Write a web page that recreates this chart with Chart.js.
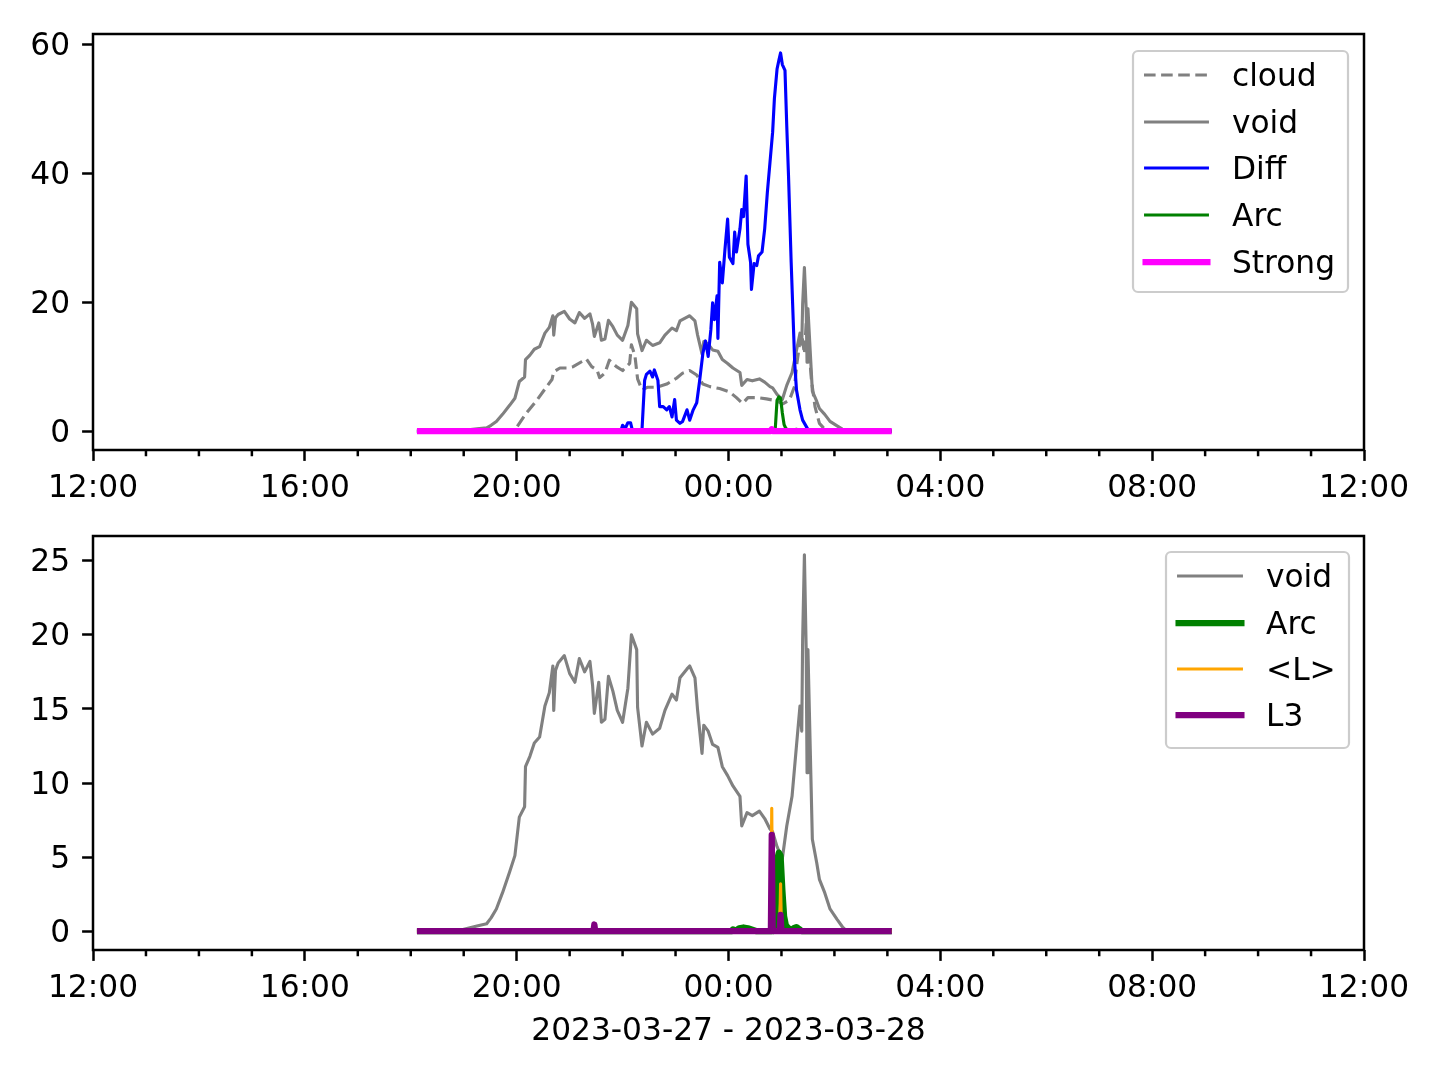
<!DOCTYPE html>
<html>
<head>
<meta charset="utf-8">
<script src="https://cdn.jsdelivr.net/npm/chart.js@4.4.0/dist/chart.umd.min.js"></script>
<style>
  html, body { margin: 0; padding: 0; background: #ffffff; width: 1440px; height: 1080px; overflow: hidden; }
  canvas { position: absolute; left: 0; }
  #top { top: 0; }
  #bottom { top: 490px; }
</style>
</head>
<body>
<canvas id="top" width="1440" height="510"></canvas>
<canvas id="bottom" width="1440" height="590"></canvas>
<script>
// ---------------- data (clock time, value) ----------------
const xTickHours = [0, 4, 8, 12, 16, 20, 24];           // hours after 12:00 that carry labels
const xAxisTitle = '2023-03-27 - 2023-03-28';

const cloud = [
  ['18:07',0],['19:56',0],['20:00',0.6],['20:11',2.8],['20:23',4.8],['20:34',6.9],['20:40',8.0],['20:42',9.2],
  ['20:49',9.8],['20:57',9.8],['21:04',10.0],['21:14',10.8],['21:19',11.2],['21:25',10.0],['21:31',9.5],['21:34',8.3],
  ['21:40',9.0],['21:45',11.0],['21:53',10.0],['22:00',9.4],['22:08',10.5],['22:10',13.4],['22:14',11.7],['22:17',8.1],
  ['22:22',6.4],['22:28',6.8],['22:39',6.8],['22:50',7.3],['23:01',8.2],['23:08',9.0],['23:16',9.4],['23:24',8.7],
  ['23:31',7.3],['23:39',6.9],['23:50',6.6],['00:01',6.1],['00:09',5.2],['00:16',4.3],['00:22',5.2],['00:32',5.2],
  ['00:43',5.0],['00:55',4.7],['01:01',4.2],['01:09',4.8],['01:15',7.0],['01:17',10.0],['01:21',14.0],['01:23',15.0],
  ['01:26',12.0],['01:29',19.0],['01:31',13.0],['01:34',7.9],['01:38',3.8],['01:43',1.2],['01:49',0.3],['01:55',0],['03:05',0]
];

const voidSeries = [
  ['18:07',0],['18:58',0.1],['19:15',0.35],['19:26',0.5],['19:31',0.9],['19:37',1.5],['19:44',2.6],['19:52',4.0],
  ['19:58',5.1],['20:03',7.7],['20:09',8.4],['20:10',11.1],['20:15',11.8],['20:20',12.7],['20:26',13.1],['20:32',15.2],
  ['20:37',16.1],['20:41',17.9],['20:42',14.9],['20:44',17.6],['20:47',18.1],['20:54',18.6],['21:00',17.4],['21:06',16.8],
  ['21:11',18.4],['21:17',17.5],['21:23',18.2],['21:26',16.6],['21:28',14.7],['21:33',16.8],['21:36',14.1],['21:40',14.3],
  ['21:44',17.2],['21:49',16.2],['21:54',14.9],['22:00',14.1],['22:06',16.4],['22:10',20.0],['22:16',19.0],['22:17',15.1],
  ['22:22',12.5],['22:27',14.1],['22:34',13.3],['22:42',13.7],['22:48',14.9],['22:56',16.0],['23:01',15.6],['23:05',17.1],
  ['23:13',17.7],['23:16',17.9],['23:22',17.1],['23:25',14.9],['23:30',12.0],['23:32',13.9],['23:37',13.5],['23:42',12.6],
  ['23:48',12.4],['23:53',11.1],['23:59',10.5],['00:05',9.8],['00:13',9.1],['00:15',7.1],['00:21',8.0],['00:27',7.8],
  ['00:35',8.1],['00:41',7.6],['00:47',6.9],['00:50',6.7],['00:55',5.7],['01:01',4.9],['01:06',7.1],['01:12',9.1],
  ['01:17',12.5],['01:21',15.2],['01:23',13.5],['01:24',19.7],['01:26',25.4],['01:28',19.0],['01:29',10.7],['01:30',19.0],
  ['01:35',6.2],['01:40',4.6],['01:43',3.5],['01:49',2.6],['01:55',1.5],['02:03',0.8],['02:09',0.3],['02:14',0],['03:05',0]
];

const diff = [
  ['18:07',0],['21:58',0],['22:00',0.9],['22:03',0.4],['22:06',1.3],['22:09',1.3],['22:11',0.2],['22:20',0],
  ['22:22',0.2],['22:25',7.9],['22:27',8.8],['22:31',9.3],['22:34',8.4],['22:36',9.5],['22:40',7.9],['22:42',3.8],
  ['22:46',3.8],['22:50',3.3],['22:53',3.8],['22:56',2.2],['22:59',4.9],['23:01',1.7],['23:05',1.2],['23:08',1.5],
  ['23:13',3.3],['23:16',1.7],['23:20',3.3],['23:24',4.4],['23:27',7.5],['23:31',12.1],['23:34',14.0],['23:37',11.6],
  ['23:40',15.7],['23:42',19.9],['23:44',17.3],['23:47',21.0],['23:48',14.4],['23:50',26.2],['23:53',23.0],['23:56',28.2],
  ['23:59',32.9],['00:01',27.0],['00:05',26.0],['00:07',30.9],['00:09',27.8],['00:13',31.4],['00:15',34.4],['00:17',33.3],
  ['00:20',39.6],['00:22',29.0],['00:25',26.2],['00:26',22.0],['00:29',26.0],['00:32',25.7],['00:34',27.2],['00:38',27.8],
  ['00:41',31.4],['00:44',37.0],['00:47',41.7],['00:50',46.4],['00:52',51.6],['00:55',56.2],['00:57',57.5],['00:59',58.7],
  ['01:01',56.9],['01:04',56.0],['01:06',47.4],['01:08',39.6],['01:11',26.2],['01:13',18.4],['01:15',10.6],['01:17',6.4],
  ['01:21',3.3],['01:24',1.7],['01:29',0.5],['01:31',0],['03:05',0]
];

const arc = [
  ['18:07',0],['00:03',0],['00:05',0.12],['00:08',0.03],['00:12',0.2],['00:17',0.25],['00:22',0.2],['00:27',0.1],
  ['00:32',0],['00:51',0],['00:53',0.4],['00:55',4.8],['00:57',5.3],['00:59',5.1],['01:01',2.8],['01:03',1.0],
  ['01:05',0.4],['01:08',0.2],['01:11',0.05],['01:14',0.2],['01:17',0.28],['01:20',0.15],['01:23',0],['03:05',0]
];

const strong = [['18:07',0],['00:48',0],['00:49',0.3],['00:50',0],['03:05',0]];

const lMean = [
  ['18:07',0],['21:27',0],['21:28',0.5],['21:29',0],['00:48',0],['00:49',8.3],['00:50',0],
  ['00:58',0],['00:59',3.2],['01:00',0],['03:05',0]
];

const l3 = [
  ['18:07',0],['21:27',0],['21:28',0.45],['21:29',0],['00:48',0],['00:49',6.5],['00:50',0.2],['00:51',0],
  ['00:58',0],['00:59',1.1],['01:00',0],['03:05',0]
];

// ---------------- helpers ----------------
const FONT_FAMILY = "'DejaVu Sans', sans-serif";
const FONT_SIZE = 31.25;
Chart.defaults.font.family = FONT_FAMILY;
Chart.defaults.font.size = FONT_SIZE;
Chart.defaults.color = '#000000';

function hoursAfterNoon(t) {
  const [h, m] = t.split(':').map(Number);
  let v = h + m / 60 - 12;
  if (v < 0) v += 24;
  return v;
}
function toPoints(pairs) { return pairs.map(([t, v]) => ({ x: hoursAfterNoon(t), y: v })); }
function clockLabel(v) {
  if (!xTickHours.includes(v)) return '';
  const h = (12 + v) % 24;
  return String(h).padStart(2, '0') + ':00';
}

const framePlugin = {
  id: 'framePlugin',
  afterDraw(chart) {
    const { ctx, chartArea: a } = chart;
    const x = chart.scales.x;
    ctx.save();
    ctx.strokeStyle = '#000000';
    ctx.lineWidth = 2.5;
    ctx.lineCap = 'butt';
    for (let h = x.min; h <= x.max; h++) {
      if (xTickHours.includes(h)) continue;
      const px = x.getPixelForValue(h);
      ctx.beginPath();
      ctx.moveTo(px, a.bottom);
      ctx.lineTo(px, a.bottom + 6.25);
      ctx.stroke();
    }
    ctx.strokeRect(a.left, a.top, a.right - a.left, a.bottom - a.top);
    ctx.restore();
  }
};

const boxLegend = {
  id: 'boxLegend',
  afterDraw(chart, args, o) {
    if (!o || !o.rows) return;
    const ctx = chart.ctx;
    ctx.save();
    ctx.beginPath();
    if (ctx.roundRect) ctx.roundRect(o.x0, o.y0, o.x1 - o.x0, o.y1 - o.y0, 5);
    else ctx.rect(o.x0, o.y0, o.x1 - o.x0, o.y1 - o.y0);
    ctx.fillStyle = 'rgba(255,255,255,0.8)';
    ctx.fill();
    ctx.lineWidth = 2.2;
    ctx.strokeStyle = '#cccccc';
    ctx.stroke();
    chart.data.datasets.forEach((ds, i) => {
      const y = o.rows[i];
      const dash = ds.borderDash || [];
      ctx.beginPath();
      ctx.setLineDash(dash);
      ctx.lineWidth = ds.borderWidth;
      ctx.strokeStyle = ds.borderColor;
      if (dash.length) {
        ctx.lineCap = 'butt';
        ctx.moveTo(o.lx0, y); ctx.lineTo(o.lx1, y);
      } else {
        ctx.lineCap = 'square';
        ctx.moveTo(o.lx0 + 1.6, y); ctx.lineTo(o.lx1 - 1.6, y);
      }
      ctx.stroke();
      ctx.setLineDash([]);
      ctx.fillStyle = '#000000';
      ctx.font = FONT_SIZE + 'px ' + FONT_FAMILY;
      ctx.textAlign = 'left';
      ctx.textBaseline = 'middle';
      ctx.fillText(ds.label, o.tx, y + 2.5);
    });
    ctx.restore();
  }
};

function makeChart(id, sets, cfg) {
  const n = sets.length;
  return new Chart(document.getElementById(id), {
    type: 'line',
    data: {
      datasets: sets.map((s, i) => ({
        label: s.label,
        data: toPoints(s.data),
        borderColor: s.color,
        borderWidth: s.width,
        borderDash: s.dash || [],
        pointRadius: 0,
        pointHoverRadius: 0,
        tension: 0,
        fill: false,
        borderJoinStyle: 'round',
        borderCapStyle: 'butt',
        order: n - 1 - i
      }))
    },
    options: {
      responsive: false,
      maintainAspectRatio: false,
      animation: false,
      devicePixelRatio: 1,
      events: [],
      layout: { padding: { left: 0, right: 76, top: cfg.top, bottom: 0 } },
      plugins: {
        legend: { display: false },
        tooltip: { enabled: false },
        boxLegend: cfg.legend
      },
      scales: {
        x: {
          type: 'linear',
          min: 0, max: 24,
          ticks: {
            stepSize: 1, autoSkip: false, maxRotation: 0, minRotation: 0,
            padding: 9, color: '#000000', font: { size: FONT_SIZE },
            callback: (v) => clockLabel(v)
          },
          grid: {
            drawOnChartArea: false, drawTicks: true, tickLength: 10.9, tickWidth: 2.5,
            tickColor: (c) => (c.tick && xTickHours.includes(c.tick.value)) ? '#000000' : 'rgba(0,0,0,0)'
          },
          border: { display: false },
          title: cfg.title ? {
            display: true, text: cfg.title, color: '#000000', font: { size: FONT_SIZE },
            padding: { top: 0, bottom: 29 }
          } : { display: false },
          afterFit: (s) => { s.height = cfg.xHeight; }
        },
        y: {
          type: 'linear',
          min: cfg.yMin, max: cfg.yMax,
          ticks: { stepSize: cfg.yStep, includeBounds: false, padding: 12, labelOffset: 2.5, color: '#000000', font: { size: FONT_SIZE } },
          grid: { drawOnChartArea: false, drawTicks: true, tickLength: 10.9, tickWidth: 2.5, tickColor: '#000000' },
          border: { display: false },
          afterFit: (s) => { s.width = 93; }
        }
      }
    },
    plugins: [framePlugin, boxLegend]
  });
}

makeChart('top', [
  { label: 'cloud',  data: cloud,      color: '#808080', width: 3.125, dash: [11.6, 5.5] },
  { label: 'void',   data: voidSeries, color: '#808080', width: 3.125 },
  { label: 'Diff',   data: diff,       color: '#0000ff', width: 3.125 },
  { label: 'Arc',    data: arc,        color: '#008000', width: 3.125 },
  { label: 'Strong', data: strong,     color: '#ff00ff', width: 6.25 }
], {
  top: 34, xHeight: 60, yMin: -2.935, yMax: 61.64, yStep: 20,
  legend: { x0: 1133, y0: 51, x1: 1348, y1: 292, lx0: 1144, lx1: 1209, tx: 1232, rows: [75, 122, 168, 215, 262] }
});

makeChart('bottom', [
  { label: 'void', data: voidSeries, color: '#808080', width: 3.125 },
  { label: 'Arc',  data: arc,        color: '#008000', width: 6.25 },
  { label: '<L>',  data: lMean,      color: '#ffa500', width: 3.125 },
  { label: 'L3',   data: l3,         color: '#800080', width: 6.25 }
], {
  top: 46, xHeight: 130, yMin: -1.27, yMax: 26.67, yStep: 5, title: xAxisTitle,
  legend: { x0: 1166, y0: 62, x1: 1349, y1: 258, lx0: 1177, lx1: 1243, tx: 1266, rows: [86, 133, 179, 225] }
});
</script>
</body>
</html>
